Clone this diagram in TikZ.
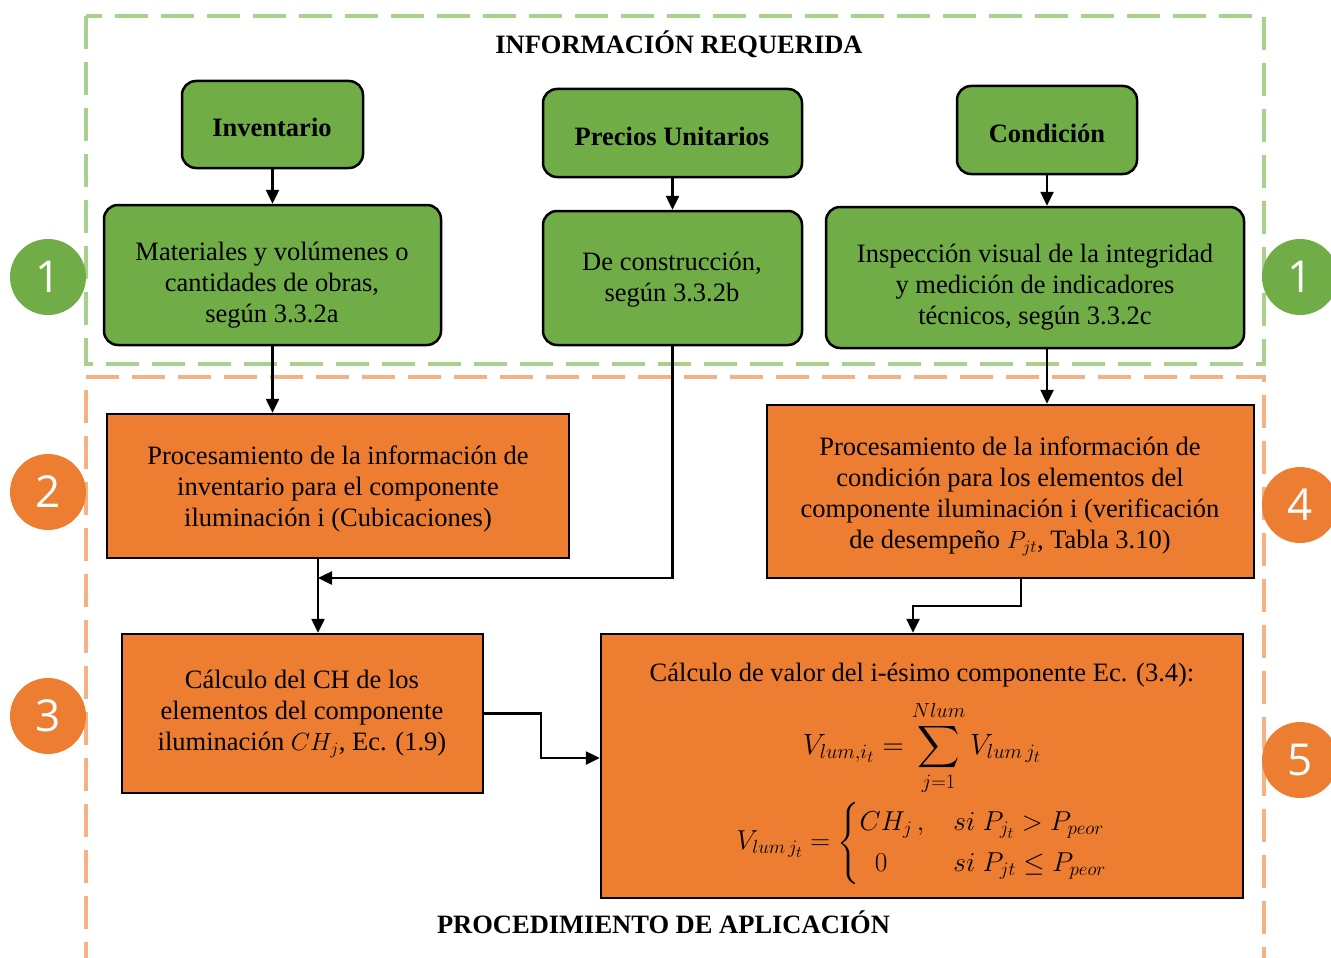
\documentclass[tikz,border=0pt]{standalone}
\usepackage{amsmath}
\usepackage{graphicx}
\usepackage{fontspec}
\setmainfont{Liberation Serif}
\newfontfamily\badgefont{Open Sans}
\usetikzlibrary{arrows.meta}

\definecolor{leafgreen}{HTML}{70AD47}
\definecolor{paleleaf}{HTML}{A9D18E}
\definecolor{ember}{HTML}{ED7D31}
\definecolor{paleember}{HTML}{F4B183}

\tikzset{
  infobox/.style={draw=black, line width=2.5pt, fill=leafgreen, rounded corners=14pt, inner sep=0pt},
  stepbox/.style={draw=black, line width=2.5pt, fill=ember, inner sep=0pt},
  boxtext/.style={align=center, inner sep=0pt, font=\fontsize{26.5}{31}\selectfont},
  headtext/.style={boxtext, font=\fontsize{26.5}{31}\selectfont\bfseries},
  zonetitle/.style={anchor=base, inner sep=0pt, font=\fontsize{26.5}{30}\selectfont\bfseries},
  zone/.style={line width=4pt, dash pattern=on 33pt off 13pt},
  badge/.style={circle, minimum size=76pt, inner sep=0pt, text=white, font=\badgefont\fontsize{44}{44}\selectfont},
  link/.style={line width=2.5pt, -{Triangle[length=14pt,width=13pt]}},
}

\begin{document}
\begin{tikzpicture}[x=1pt,y=-1pt]
\clip (0,0) rectangle (1331,958);
\fill[white] (0,0) rectangle (1331,958);

% dashed zones
\draw[zone, draw=paleleaf] (86,16) rectangle (1264,364);
\draw[zone, draw=paleember] (86,975) -- (86,377) -- (1264,377) -- (1264,975);

\node[zonetitle] (infotitle) at (679,54) {INFORMACIÓN REQUERIDA};
\node[zonetitle] (proctitle) at (663.5,933) {PROCEDIMIENTO DE APLICACIÓN};

% required information
\node[infobox, minimum width=181pt, minimum height=87pt] (inv) at (272.5,124.5) {};
\node[headtext] (invT) at (272,127) {Inventario};
\node[infobox, minimum width=259pt, minimum height=88pt] (pre) at (672.5,133) {};
\node[headtext] (preT) at (672,136) {Precios Unitarios};
\node[infobox, minimum width=180pt, minimum height=88pt] (con) at (1047,130) {};
\node[headtext] (conT) at (1047,133) {Condición};

\node[infobox, minimum width=337pt, minimum height=140pt] (mat) at (272.5,275) {};
\node[boxtext] (matT) at (272,285) {Materiales y volúmenes o\\cantidades de obras,\\según 3.3.2a};
\node[infobox, minimum width=259pt, minimum height=134pt] (dec) at (672.5,278) {};
\node[boxtext] (decT) at (672,280) {De construcción,\\según 3.3.2b};
\node[infobox, minimum width=418pt, minimum height=141pt] (ins) at (1035,277.5) {};
\node[boxtext] (insT) at (1035,287) {Inspección visual de la integridad\\y medición de indicadores\\técnicos, según 3.3.2c};

% procedure
\node[stepbox, minimum width=462pt, minimum height=144pt] (p2) at (338,486) {};
\node[boxtext] (p2T) at (338,489) {Procesamiento de la información de\\inventario para el componente\\iluminación i (Cubicaciones)};
\node[stepbox, minimum width=487pt, minimum height=173pt] (p4) at (1010.5,491.5) {};
\node[boxtext] (p4T) at (1010,496) {Procesamiento de la información de\\condición para los elementos del\\componente iluminación i (verificación\\de desempeño $P_{jt}$, Tabla 3.10)};
\node[stepbox, minimum width=361pt, minimum height=159pt] (p3) at (302.5,713.5) {};
\node[boxtext] (p3T) at (302,714) {Cálculo del CH de los\\elementos del componente\\iluminación $CH_j$, Ec. (1.9)};
\node[stepbox, minimum width=642pt, minimum height=264pt] (p5) at (922,766) {};
\node[boxtext] (p5T) at (922,675) {Cálculo de valor del i-ésimo componente Ec. (3.4):};
\node[boxtext] (p5S) at (922,748) {\scalebox{1.18}{$\displaystyle V_{lum,i_t} = \sum_{j=1}^{Nlum} V_{lum\,j_t}$}};
\node[boxtext] (p5C) at (922,843) {\scalebox{1.1}{$\displaystyle V_{lum\,j_t} = \begin{cases} CH_j\,, & si\ P_{j_t} > P_{peor}\\ \;\;0 & si\ P_{jt} \le P_{peor}\end{cases}$}};

% connectors
\draw[link] (inv.south) -- (mat.north);
\draw[link] (pre.south) -- (dec.north);
\draw[link] (con.south) -- (con.south |- ins.north);
\draw[link] (mat.south) -- (mat.south |- p2.north);
\draw[link] (con.south |- ins.south) -- (con.south |- p4.north);

\coordinate (j1) at (318,578);
\draw[link] (dec.south) |- (j1);
\draw[link] (j1 |- p2.south) -- (j1 |- p3.north);

\coordinate (j2) at (1021,606);
\coordinate (j3) at (913,606);
\draw[link] (j2 |- p4.south) -- (j2) -- (j3) -- (j3 |- p5.north);

\coordinate (k) at (541,758);
\draw[link] (p3.east) -| (k) -- (k -| p5.west);

% step badges
\node[badge, fill=leafgreen] (b1l) at (48,277) {1};
\node[badge, fill=leafgreen] (b1r) at (1300,277) {1};
\node[badge, fill=ember] (b2) at (48,492) {2};
\node[badge, fill=ember] (b3) at (48,716) {3};
\node[badge, fill=ember] (b4) at (1300,505) {4};
\node[badge, fill=ember] (b5) at (1300,760) {5};
\end{tikzpicture}
\end{document}
